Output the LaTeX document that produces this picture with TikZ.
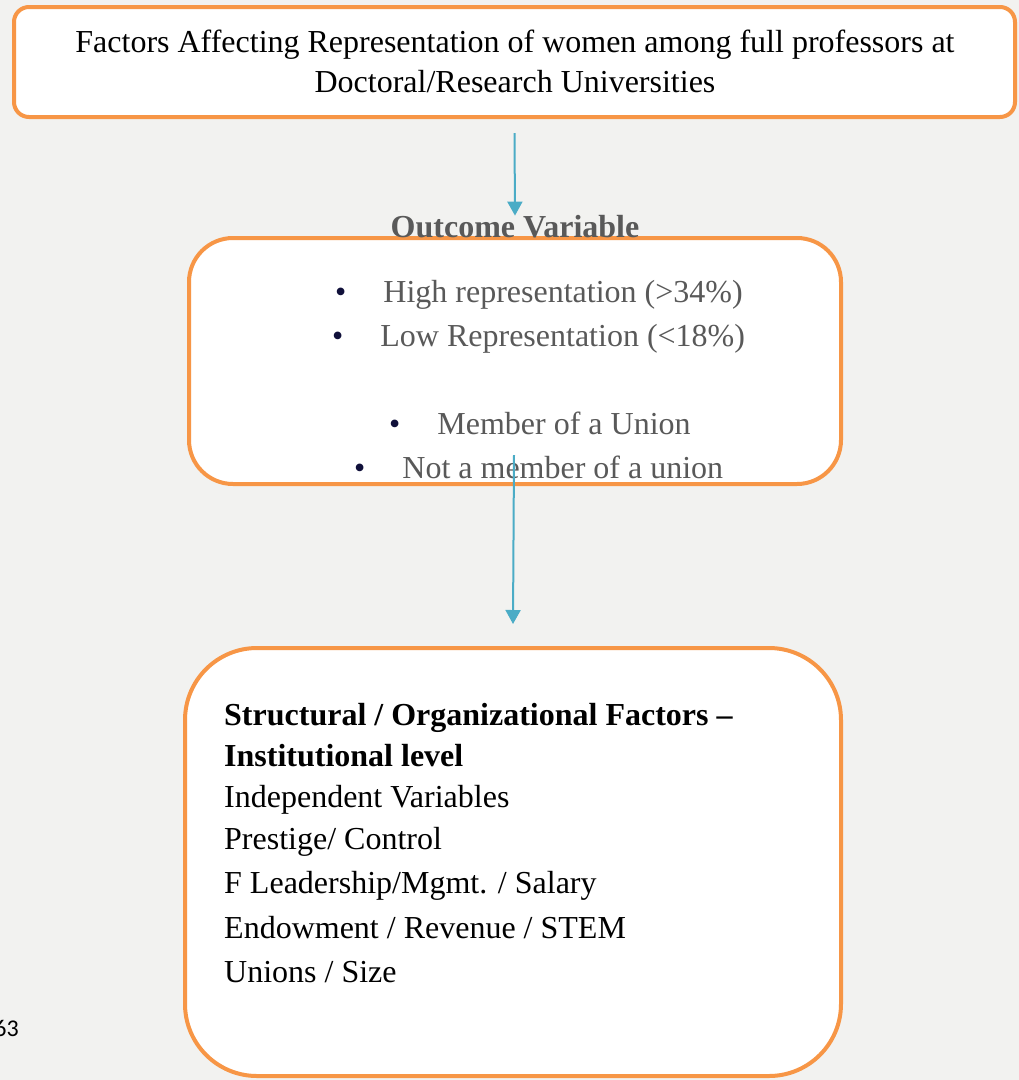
\documentclass[tikz,border=0pt]{standalone}
\usepackage{fontspec}
\setmainfont{Liberation Serif}
\newfontfamily\pagefont{Carlito}
\usetikzlibrary{positioning,arrows.meta}
\definecolor{boxorange}{HTML}{F79646}
\definecolor{arrowteal}{HTML}{4BACC6}
\definecolor{textgray}{HTML}{595959}
\definecolor{bulletnavy}{HTML}{10103A}
\definecolor{slidebg}{HTML}{F2F2F0}
\newcommand{\itembullet}{\textcolor{bulletnavy}{\textbullet}\hspace{37pt}}
\tikzset{
  framebox/.style={draw=boxorange, line width=4pt, fill=white, inner sep=0pt},
  flowarrow/.style={draw=arrowteal, line width=2pt, -{Triangle[length=14pt,width=15pt]}},
  itemtext/.style={text=textgray, font=\fontsize{32}{36}\selectfont, anchor=base west, inner sep=0pt},
  factortext/.style={font=\fontsize{32}{36}\selectfont, anchor=base west, inner sep=0pt}
}

\begin{document}
\begin{tikzpicture}[x=1pt,y=-1pt]
\useasboundingbox[fill=slidebg] (0,0) rectangle (1019,1080);

% boxes
\node[framebox, rounded corners=15pt, minimum width=1001pt, minimum height=110pt] (title) at (514.5,62) {};
\node[framebox, rounded corners=44pt, minimum width=652pt, minimum height=246pt] (outcome) at (515,361) {};
\node[framebox, rounded corners=72pt, minimum width=656pt, minimum height=428pt] (factors) at (513,862) {};

% title text
\node[font=\fontsize{32}{40}\selectfont, align=center, inner sep=0pt, anchor=base] (titletext) at (515,92)
  {Factors Affecting Representation of women among full professors at\\Doctoral/Research Universities};

% outcome variable
\node[text=textgray, font=\bfseries\fontsize{32}{36}\selectfont, anchor=base, inner sep=0pt] (outlabel) at (515,237) {Outcome Variable};
\node[itemtext] (high) at (335,302) {\itembullet High representation (>34\%)};
\node[itemtext] (low) at (332,346) {\itembullet Low Representation (<18\%)};
\node[itemtext] (union) at (389,434) {\itembullet Member of a Union};
\node[itemtext] (nounion) at (354,478) {\itembullet Not a member of a union};

% factor list
\node[factortext, font=\bfseries\fontsize{32}{36}\selectfont] (struct) at (224,725) {Structural / Organizational Factors --};
\node[factortext, font=\bfseries\fontsize{32}{36}\selectfont] (inst) at (224,766) {Institutional level};
\node[factortext] (indep) at (224,807) {Independent Variables};
\node[factortext] (prestige) at (224,849) {Prestige/ Control};
\node[factortext] (lead) at (224,893) {F Leadership/Mgmt. / Salary};
\node[factortext] (endow) at (224,938) {Endowment / Revenue / STEM};
\node[factortext] (size) at (224,982) {Unions / Size};

% page number
\node[font=\pagefont\fontsize{24}{26}\selectfont, anchor=base east, inner sep=0pt] (pagenum) at (19,1036) {63};

% connectors
\coordinate (midstart) at (514,455);
\draw[flowarrow] ([yshift=-14pt]title.south) -- ([yshift=-1pt]outlabel.north);
\draw[flowarrow] (midstart) -- ([yshift=22pt]factors.north);
\end{tikzpicture}
\end{document}
